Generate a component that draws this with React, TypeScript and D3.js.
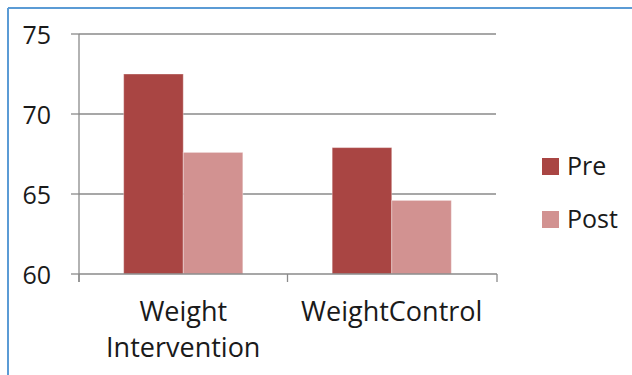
import React from "react";
import * as d3 from "d3";

// Mean weight before and after, per study group
const categories = ["Weight Intervention", "WeightControl"];
const categoryLines = [["Weight", "Intervention"], ["WeightControl"]];
const seriesNames = ["Pre", "Post"];
const preValues = [72.5, 67.9];
const postValues = [67.6, 64.6];
const yTicks = [60, 65, 70, 75];
const seriesColors = ["#A94543", "#D29291"];

const W = 632;
const H = 375;
const plot = { left: 79, right: 496, top: 34, bottom: 274 };
const font = "'Open Sans', 'Noto Sans', sans-serif";
const tickFontSize = 25;
const categoryFontSize = 27;
const gridColor = "#8A8A8A";
const textColor = "#1a1a1a";

export default function App() {
  const seriesValues = [preValues, postValues];

  const y = d3.scaleLinear().domain([60, 75]).range([plot.bottom, plot.top]);
  const x0 = d3.scaleBand<string>().domain(categories).range([plot.left, plot.right]);
  // two bars per group with a 150% gap between groups
  const barW = x0.bandwidth() / 3.5;
  const x1 = d3
    .scaleBand<string>()
    .domain(seriesNames)
    .range([0.75 * barW, 2.75 * barW]);

  return (
    <svg
      width={W}
      height={H}
      style={{ position: "absolute", left: 0, top: 0, background: "#fff" }}
      fontFamily={font}
    >
      {/* frame */}
      <line x1={8} x2={W} y1={8} y2={8} stroke="#5B9BD5" strokeWidth={2} />
      <line x1={8} x2={8} y1={8} y2={H} stroke="#5B9BD5" strokeWidth={2} />

      {/* gridlines and y ticks */}
      {yTicks.map((t) => (
        <g key={t}>
          {t !== 60 && (
            <line
              x1={plot.left}
              x2={plot.right}
              y1={y(t)}
              y2={y(t)}
              stroke={gridColor}
              strokeWidth={1.3}
            />
          )}
          <line x1={plot.left - 8} x2={plot.left} y1={y(t)} y2={y(t)} stroke={gridColor} strokeWidth={1.3} />
          <text
            x={plot.left - 28}
            y={y(t)}
            textAnchor="end"
            dominantBaseline="central"
            fontSize={tickFontSize}
            fill={textColor}
          >
            {t}
          </text>
        </g>
      ))}

      {/* bars */}
      {categories.map((c, ci) => (
        <g key={c} transform={`translate(${x0(c)},0)`}>
          {seriesNames.map((s, si) => {
            const v = seriesValues[si][ci];
            return (
              <rect
                key={s}
                x={x1(s)}
                y={y(v)}
                width={x1.bandwidth()}
                height={y(60) - y(v)}
                fill={seriesColors[si]}
                stroke="#ffffff"
                strokeOpacity={0.35}
                strokeWidth={1}
              />
            );
          })}
        </g>
      ))}

      {/* axes */}
      <line x1={plot.left} x2={plot.left} y1={plot.top} y2={plot.bottom + 8} stroke={gridColor} strokeWidth={1.3} />
      <line x1={plot.left} x2={plot.right + 1} y1={plot.bottom} y2={plot.bottom} stroke={gridColor} strokeWidth={1.3} />
      {[...categories.map((c) => x0(c)!), plot.right + 1].map((xv, i) => (
        <line key={i} x1={xv} x2={xv} y1={plot.bottom} y2={plot.bottom + 8} stroke={gridColor} strokeWidth={1.3} />
      ))}

      {/* category labels */}
      {categories.map((c, ci) => (
        <text key={c} textAnchor="middle" fontSize={categoryFontSize} fill={textColor}>
          {categoryLines[ci].map((line, li) => (
            <tspan key={li} x={x0(c)! + x0.bandwidth() / 2} y={321 + li * 36}>
              {line}
            </tspan>
          ))}
        </text>
      ))}

      {/* legend */}
      {seriesNames.map((s, si) => (
        <g key={s} transform={`translate(542,${158 + si * 53})`}>
          <rect width={17} height={17} fill={seriesColors[si]} />
          <text x={25} y={16.5} fontSize={tickFontSize} fill={textColor}>
            {s}
          </text>
        </g>
      ))}
    </svg>
  );
}
